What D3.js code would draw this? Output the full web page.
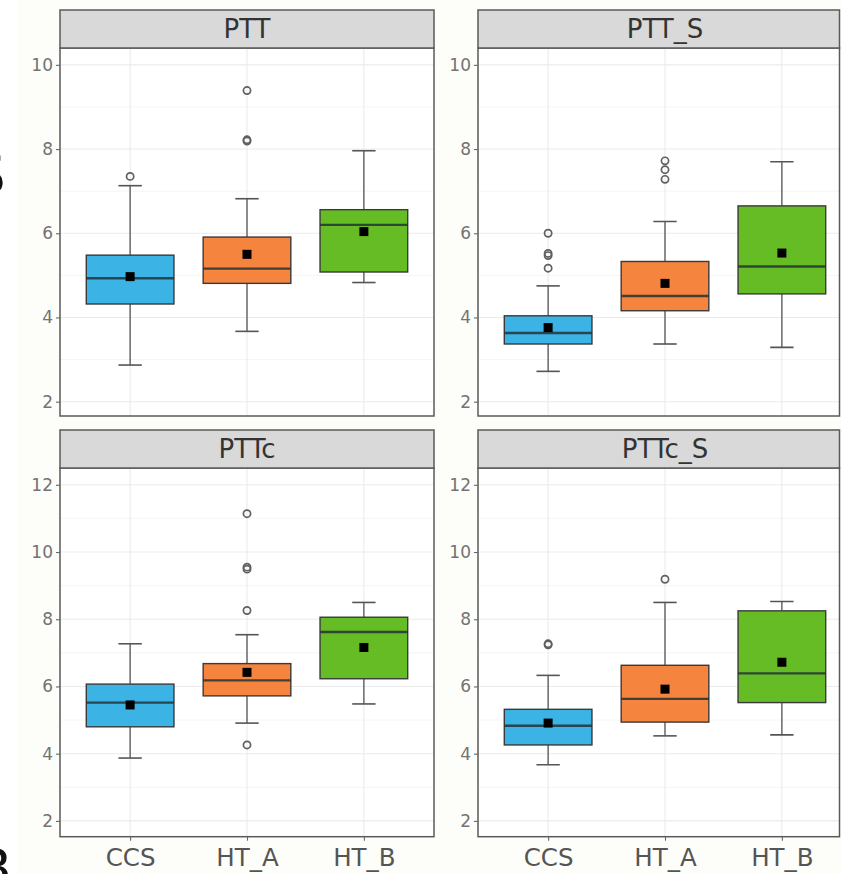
<!DOCTYPE html>
<html>
<head>
<meta charset="utf-8">
<script src="https://cdn.jsdelivr.net/npm/d3@7"></script>
<style>
  body { margin: 0; background: #fff; }
  svg { display: block; font-family: "DejaVu Sans", sans-serif; }
</style>
</head>
<body>
<svg id="chart" width="841" height="874"></svg>
<script>
const W = 841, H = 874;

const groups = ["CCS", "HT_A", "HT_B"];
const panelNames = ["PTT", "PTT_S", "PTTc", "PTTc_S"];

// per group: [whisker low, q1, median, q3, whisker high, mean]
const pttStats   = [[2.87, 4.32, 4.93, 5.48, 7.13, 4.97], [3.67, 4.81, 5.16, 5.91, 6.82, 5.50], [4.83, 5.08, 6.20, 6.56, 7.96, 6.04]];
const pttSStats  = [[2.72, 3.37, 3.63, 4.04, 4.75, 3.76], [3.37, 4.16, 4.51, 5.33, 6.28, 4.81], [3.29, 4.56, 5.21, 6.65, 7.70, 5.53]];
const pttcStats  = [[3.87, 4.80, 5.52, 6.07, 7.27, 5.45], [4.91, 5.72, 6.18, 6.68, 7.54, 6.42], [5.48, 6.23, 7.62, 8.06, 8.50, 7.16]];
const pttcSStats = [[3.67, 4.26, 4.83, 5.32, 6.33, 4.91], [4.53, 4.94, 5.63, 6.63, 8.50, 5.92], [4.56, 5.52, 6.39, 8.25, 8.53, 6.72]];

// outliers per group
const pttOut   = [[7.35], [9.39, 8.22, 8.19], []];
const pttSOut  = [[6.00, 5.52, 5.47, 5.17], [7.72, 7.51, 7.28], []];
const pttcOut  = [[], [11.14, 9.55, 9.49, 8.26, 4.26], []];
const pttcSOut = [[7.27, 7.24], [9.19], []];

const topTicks = [2, 4, 6, 8, 10];
const topMinor = [3, 5, 7, 9];
const bottomTicks = [2, 4, 6, 8, 10, 12];
const bottomMinor = [3, 5, 7, 9, 11];

const fills = ["#3bb3e4", "#f5843f", "#66bc24"];

const svg = d3.select("#chart");

// faint page tone right of the cut
svg.append("rect").attr("x", 17).attr("y", 0).attr("width", W - 17).attr("height", H).attr("fill", "#fdfdf9");

// cut-off figure letters at the left edge (cropped in the source too)
svg.append("text").attr("x", -28).attr("y", 193).attr("font-size", 53).attr("fill", "#111").text("S");
svg.append("text").attr("x", -25).attr("y", 887).attr("font-size", 54).attr("fill", "#111").text("B");

const panels = [
  { name: panelNames[0], stats: pttStats,   out: pttOut,   col: 0, row: 0 },
  { name: panelNames[1], stats: pttSStats,  out: pttSOut,  col: 1, row: 0 },
  { name: panelNames[2], stats: pttcStats,  out: pttcOut,  col: 0, row: 1 },
  { name: panelNames[3], stats: pttcSStats, out: pttcSOut, col: 1, row: 1 }
];

const colLeft = [60, 478];
const fullW = 374;
const rows = [
  { stripTop: 10,  top: 48,  bottom: 416,   domain: [1.66, 10.4], ticks: topTicks, minor: topMinor },
  { stripTop: 430, top: 468, bottom: 836.7, domain: [1.53, 12.5], ticks: bottomTicks, minor: bottomMinor }
];

panels.forEach((p, pi) => {
  const r = rows[p.row];
  const left = colLeft[p.col];
  const pw = Math.min(fullW, W - 1.5 - left);

  const x = d3.scaleLinear().domain([0.4, 3.6]).range([left, left + fullW]);
  const y = d3.scaleLinear().domain(r.domain).range([r.bottom, r.top]);

  const clipId = "clip" + pi;
  svg.append("clipPath").attr("id", clipId)
    .append("rect").attr("x", left).attr("y", r.top).attr("width", pw).attr("height", r.bottom - r.top);

  const g = svg.append("g");
  const plot = g.append("g").attr("clip-path", `url(#${clipId})`);

  plot.append("rect")
    .attr("x", left).attr("y", r.top)
    .attr("width", pw).attr("height", r.bottom - r.top)
    .attr("fill", "#fff");

  // grid
  plot.selectAll(".minor").data(r.minor).join("line")
    .attr("x1", left).attr("x2", left + fullW)
    .attr("y1", d => y(d)).attr("y2", d => y(d))
    .attr("stroke", "#f3f3f3").attr("stroke-width", 0.8);
  plot.selectAll(".major").data(r.ticks).join("line")
    .attr("x1", left).attr("x2", left + fullW)
    .attr("y1", d => y(d)).attr("y2", d => y(d))
    .attr("stroke", "#ebebeb").attr("stroke-width", 1.1);
  plot.selectAll(".vgrid").data(groups).join("line")
    .attr("x1", (d, i) => x(i + 1)).attr("x2", (d, i) => x(i + 1))
    .attr("y1", r.top).attr("y2", r.bottom)
    .attr("stroke", "#ebebeb").attr("stroke-width", 1.1);

  // boxes
  const cap = 0.1, half = 0.375;
  p.stats.forEach((s, i) => {
    const cx = x(i + 1);
    const [lo, q1, med, q3, hi, mean] = s;
    const bg = plot.append("g");
    bg.append("line").attr("x1", cx).attr("x2", cx).attr("y1", y(hi)).attr("y2", y(q3))
      .attr("stroke", "#555").attr("stroke-width", 1.3);
    bg.append("line").attr("x1", cx).attr("x2", cx).attr("y1", y(q1)).attr("y2", y(lo))
      .attr("stroke", "#555").attr("stroke-width", 1.3);
    [lo, hi].forEach(v => {
      bg.append("line")
        .attr("x1", x(i + 1 - cap)).attr("x2", x(i + 1 + cap))
        .attr("y1", y(v)).attr("y2", y(v))
        .attr("stroke", "#555").attr("stroke-width", 1.6);
    });
    bg.append("rect")
      .attr("x", x(i + 1 - half)).attr("width", x(i + 1 + half) - x(i + 1 - half))
      .attr("y", y(q3)).attr("height", y(q1) - y(q3))
      .attr("fill", fills[i]).attr("stroke", "#3a3a3a").attr("stroke-width", 1.4);
    bg.append("line")
      .attr("x1", x(i + 1 - half)).attr("x2", x(i + 1 + half))
      .attr("y1", y(med)).attr("y2", y(med))
      .attr("stroke", "#263238").attr("stroke-width", 2.4).attr("opacity", 0.85);
    bg.selectAll("circle").data(p.out[i]).join("circle")
      .attr("cx", cx).attr("cy", d => y(d)).attr("r", 3.6)
      .attr("fill", "none").attr("stroke", "#606060").attr("stroke-width", 1.7);
    bg.append("rect")
      .attr("x", cx - 4.5).attr("y", y(mean) - 4.5)
      .attr("width", 9).attr("height", 9)
      .attr("fill", "#000");
  });

  // panel border
  g.append("rect")
    .attr("x", left).attr("y", r.top)
    .attr("width", pw).attr("height", r.bottom - r.top)
    .attr("fill", "none").attr("stroke", "#5a5a5a").attr("stroke-width", 1.5);

  // strip
  g.append("rect")
    .attr("x", left).attr("y", r.stripTop)
    .attr("width", pw).attr("height", r.top - r.stripTop)
    .attr("fill", "#d9d9d9").attr("stroke", "#5a5a5a").attr("stroke-width", 1.5);
  g.append("text")
    .attr("x", left + fullW / 2).attr("y", r.stripTop + 28)
    .attr("text-anchor", "middle").attr("font-size", 26).attr("fill", "#333")
    .text(p.name);

  // y axis
  const ya = g.append("g").attr("transform", `translate(${left},0)`)
    .call(d3.axisLeft(y).tickValues(r.ticks).tickSize(4).tickPadding(3).tickFormat(d3.format("d")));
  ya.select(".domain").remove();
  ya.selectAll(".tick line").attr("stroke", "#666").attr("stroke-width", 1.1);
  ya.selectAll(".tick text").attr("fill", "#737373").attr("font-size", 17)
    .attr("font-family", "DejaVu Sans, sans-serif");

  // x axis on bottom row only
  if (p.row === 1) {
    const xb = d3.scalePoint().domain(groups).range([x(1), x(3)]);
    const xa = g.append("g").attr("transform", `translate(0,${r.bottom})`)
      .call(d3.axisBottom(xb).tickSize(4).tickPadding(8));
    xa.select(".domain").remove();
    xa.selectAll(".tick line").attr("stroke", "#666").attr("stroke-width", 1.1);
    xa.selectAll(".tick text").attr("fill", "#555").attr("font-size", 24.5)
      .attr("font-family", "DejaVu Sans, sans-serif");
  }
});
</script>
</body>
</html>
